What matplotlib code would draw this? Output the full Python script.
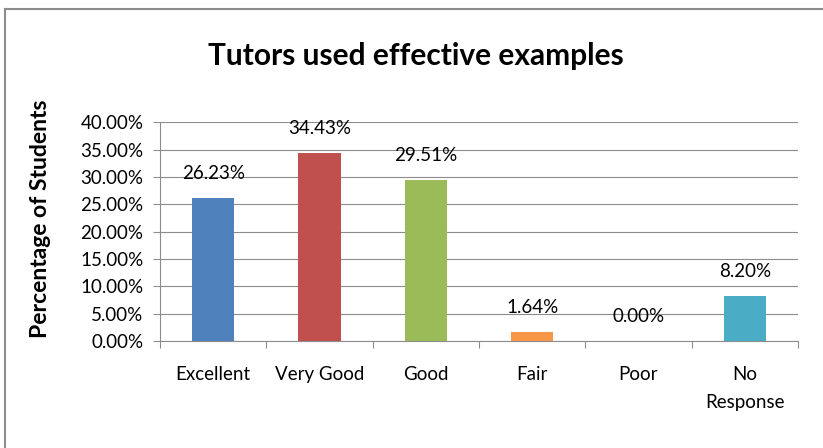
import matplotlib
matplotlib.use("Agg")
import matplotlib.pyplot as plt
from matplotlib.lines import Line2D
import numpy as np

categories = ["Excellent", "Very Good", "Good", "Fair", "Poor", "No\nResponse"]
values = [26.23, 34.43, 29.51, 1.64, 0.00, 8.20]
colors = ["#4F81BD", "#C0504D", "#9BBB59", "#F79646", "#8064A2", "#4BACC6"]
yticks = [0, 5, 10, 15, 20, 25, 30, 35, 40]

plt.rcParams['font.family'] = ['Lato', 'DejaVu Sans']
FS = 13.5

fig = plt.figure(figsize=(8.23, 4.48), dpi=100)
ax = fig.add_axes([160/823, 1-341/448, (798-160)/823, (341-122.5)/448])

x = np.arange(len(categories))
ax.bar(x, values, width=0.4, color=colors, zorder=3)
ax.set_xlim(-0.5, len(categories) - 0.5)
ax.set_ylim(0, 40)

ax.set_yticks(yticks)
ax.set_yticklabels([f"{v:.2f}%" for v in yticks], fontsize=FS)
ax.yaxis.grid(True, color="#8c8c8c", linewidth=0.8, zorder=0)
ax.tick_params(axis='y', length=5, width=0.8, color="#8c8c8c", pad=7)

ax.set_xticks(x)
ax.set_xticklabels(categories, fontsize=FS, linespacing=1.75, va='top')
ax.tick_params(axis='x', which='major', length=0, pad=18)
ax.set_xticks(np.arange(-0.5, len(categories), 1.0), minor=True)
ax.tick_params(axis='x', which='minor', length=5, width=0.8, color="#8c8c8c")

for s in ["top", "right"]:
    ax.spines[s].set_visible(False)
for s in ["left", "bottom"]:
    ax.spines[s].set_color("#8c8c8c")
    ax.spines[s].set_linewidth(0.8)

for xi, v in zip(x, values):
    ax.annotate(f"{v:.2f}%", (xi, v), xytext=(0, 13.7), textcoords="offset points",
                ha="center", va="baseline", fontsize=FS)

ax.set_ylabel("Percentage of Students", fontsize=16.5, fontweight="bold")
ax.yaxis.set_label_coords(-(160-51)/(798-160), (341-219)/(341-122.5))

fig.text(415.5/823, 1-64.5/448, "Tutors used effective examples", ha="center", va="baseline",
         fontsize=21.5, fontweight="bold")

fig.add_artist(Line2D([5/823, 5/823], [0, 1-9/448], transform=fig.transFigure,
                      color="#8c8c8c", linewidth=1.5))
fig.add_artist(Line2D([5/823, 822/823], [1-9/448, 1-9/448], transform=fig.transFigure,
                      color="#8c8c8c", linewidth=1.5))

fig.savefig("out.png", dpi=100)
